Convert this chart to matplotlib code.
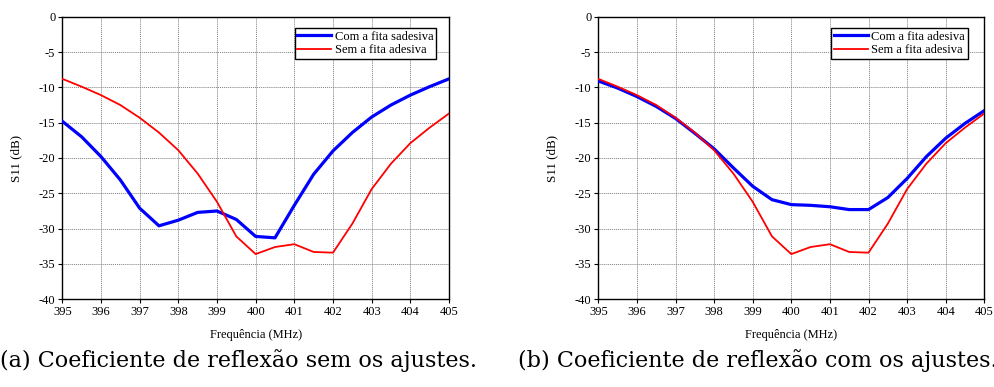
import matplotlib
matplotlib.use("Agg")
import matplotlib.pyplot as plt
import numpy as np

plt.rcParams['axes.unicode_minus'] = False
plt.rcParams['font.family'] = ['Liberation Serif', 'DejaVu Serif']

freq = [395, 395.5, 396, 396.5, 397, 397.5, 398, 398.5, 399, 399.5, 400,
        400.5, 401, 401.5, 402, 402.5, 403, 403.5, 404, 404.5, 405]

com_a = [-14.8, -17.0, -19.8, -23.1, -27.1, -29.6, -28.8, -27.7, -27.5, -28.7, -31.1,
         -31.3, -26.7, -22.3, -19.0, -16.4, -14.2, -12.5, -11.1, -9.9, -8.8]

sem = [-8.8, -9.9, -11.1, -12.5, -14.3, -16.4, -18.9, -22.2, -26.2, -31.1, -33.6,
       -32.6, -32.2, -33.3, -33.4, -29.3, -24.4, -20.8, -17.9, -15.7, -13.7]

com_b = [-9.1, -10.1, -11.3, -12.7, -14.4, -16.5, -18.7, -21.4, -24.0, -25.9, -26.6,
         -26.7, -26.9, -27.3, -27.3, -25.6, -22.9, -19.8, -17.2, -15.1, -13.3]

xticks = [395, 396, 397, 398, 399, 400, 401, 402, 403, 404, 405]
yticks = [0, -5, -10, -15, -20, -25, -30, -35, -40]

panels = [
    dict(blue=com_a, blue_label="Com a fita sadesiva", red_label="Sem a fita adesiva",
         caption="(a) Coeficiente de reflexão sem os ajustes."),
    dict(blue=com_b, blue_label="Com a fita adesiva", red_label="Sem a fita adesiva",
         caption="(b) Coeficiente de reflexão com os ajustes."),
]

W, H = 994, 387
fig = plt.figure(figsize=(W / 100, H / 100), dpi=100)

ax_px = [(62.3, 449.0), (598.3, 984.3)]
top_px, bot_px = 16.7, 299.3
leg_right = [436.0, 967.7]
cap_x = [0.0, 518.0]

for i, p in enumerate(panels):
    x0, x1 = ax_px[i]
    ax = fig.add_axes([x0 / W, 1 - bot_px / H, (x1 - x0) / W, (bot_px - top_px) / H])
    ax.plot(freq, p['blue'], color='#0000ff', lw=2.3, label=p['blue_label'], zorder=3)
    ax.plot(freq, sem, color='#ff0000', lw=1.3, label=p['red_label'], zorder=3)
    ax.set_xlim(395, 405)
    ax.set_ylim(-40, 0)
    ax.set_xticks(xticks)
    ax.set_yticks(yticks)
    ax.set_xticklabels([str(t) for t in xticks])
    ax.set_yticklabels([str(t) for t in yticks])
    ax.grid(True, color='0.5', linestyle=(0, (1, 1)), lw=0.7)
    ax.tick_params(direction='out', length=3, width=0.8, labelsize=9, pad=2, colors='black')
    for s in ax.spines.values():
        s.set_linewidth(1.0)
        s.set_color('black')
    ax.set_xlabel('Frequência (MHz)', fontsize=9, labelpad=8)
    ax.set_ylabel('S11 (dB)', fontsize=9.4, labelpad=12)
    lx = (leg_right[i] - x0) / (x1 - x0)
    ly = (bot_px - 28.3) / (bot_px - top_px)
    leg = ax.legend(loc='upper right', bbox_to_anchor=(lx, ly), fontsize=9,
                    frameon=True, fancybox=False, framealpha=1, edgecolor='black',
                    borderpad=0.2, handlelength=2.7, handletextpad=0.3,
                    labelspacing=0.12, borderaxespad=0)
    leg.get_frame().set_linewidth(1.0)

# captions
fig.canvas.draw()
r = fig.canvas.get_renderer()
cap_fs = 16
t = fig.text(0, 0, panels[0]['caption'], fontsize=cap_fs, family=['DejaVu Serif'])
w = t.get_window_extent(r).width
t.remove()
cap_fs = cap_fs * 477.0 / w
for i, p in enumerate(panels):
    fig.text(cap_x[i] / W, 1 - 367.0 / H, p['caption'], fontsize=cap_fs,
             family=['DejaVu Serif'], ha='left', va='baseline')

fig.savefig('out.png', dpi=100)
